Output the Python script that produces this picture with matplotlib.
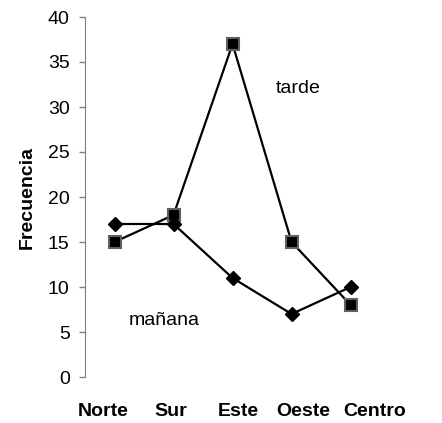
import matplotlib.pyplot as plt

plt.rcParams['font.family'] = ['Liberation Sans', 'DejaVu Sans']

zonas = ['Norte', 'Sur', 'Este', 'Oeste', 'Centro']
tarde = [15, 18, 37, 15, 8]
manana = [17, 17, 11, 7, 10]

fig = plt.figure(figsize=(4.42, 4.23), dpi=100)
ax = fig.add_axes([85 / 442, 46 / 423, 301 / 442, 360 / 423])

x = list(range(len(zonas)))
ax.plot(x, tarde, color='black', lw=1.6, marker='s', markersize=8,
        markerfacecolor='black', markeredgecolor='#606060', markeredgewidth=1.5)
ax.plot(x, manana, color='black', lw=1.6, marker='D', markersize=7,
        markerfacecolor='black', markeredgecolor='black')

ax.set_xlim(-0.5, 4.6)
ax.set_ylim(0, 40)
ax.set_yticks(range(0, 41, 5))
ax.tick_params(axis='y', direction='out', length=4, width=1, color='#808080',
               labelsize=14, pad=7)

# etiquetas de categoria algo desplazadas como en la hoja original
ax.set_xticks([-0.2, 0.95, 2.1, 3.2, 4.4])
ax.set_xticklabels(zonas, fontweight='bold', fontsize=14)
ax.tick_params(axis='x', length=0, pad=19)

for s in ['top', 'right', 'bottom']:
    ax.spines[s].set_visible(False)
ax.spines['left'].set_color('#808080')

ax.set_ylabel('Frecuencia', fontweight='bold', fontsize=14, labelpad=9)

ax.text(3.12, 32.1, 'tarde', fontsize=14, ha='center', va='center')
ax.text(0.85, 6.3, 'mañana', fontsize=14, ha='center', va='center')

plt.savefig('out.png', dpi=100)
